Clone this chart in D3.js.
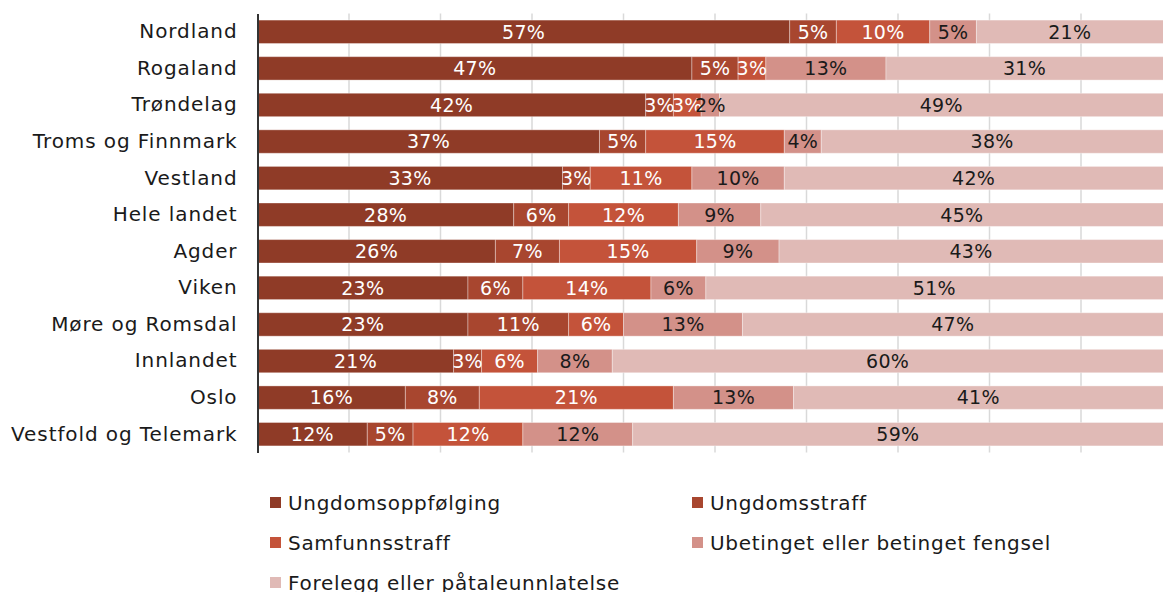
<!DOCTYPE html>
<html>
<head>
<meta charset="utf-8">
<script src="https://cdn.jsdelivr.net/npm/d3@7"></script>
<style>
  body { margin: 0; background: #fff; }
  svg { display: block; font-family: "DejaVu Sans", sans-serif; }
</style>
</head>
<body>
<svg id="chart" width="1163" height="592"></svg>
<script>
// regions, top to bottom
const regions = ["Nordland", "Rogaland", "Trøndelag", "Troms og Finnmark", "Vestland", "Hele landet",
  "Agder", "Viken", "Møre og Romsdal", "Innlandet", "Oslo", "Vestfold og Telemark"];

const seriesNames = ["Ungdomsoppfølging", "Ungdomsstraff", "Samfunnsstraff",
  "Ubetinget eller betinget fengsel", "Forelegg eller påtaleunnlatelse"];

// percentages per series, same order as regions
const ungdomsoppfolging = [57, 47, 42, 37, 33, 28, 26, 23, 23, 21, 16, 12];
const ungdomsstraff     = [5, 5, 3, 5, 3, 6, 7, 6, 11, 3, 8, 5];
const samfunnsstraff    = [10, 3, 3, 15, 11, 12, 15, 14, 6, 6, 21, 12];
const fengsel           = [5, 13, 2, 4, 10, 9, 9, 6, 13, 8, 13, 12];
const forelegg          = [21, 31, 49, 38, 42, 45, 43, 51, 47, 60, 41, 59];

const colors = ["#8f3b27", "#a8462f", "#c4533a", "#d39189", "#e0bab6"];
const labelColors = ["#fff", "#fff", "#fff", "#1a1a1a", "#1a1a1a"];

const rows = regions.map((r, i) => ({
  region: r,
  s0: ungdomsoppfolging[i], s1: ungdomsstraff[i], s2: samfunnsstraff[i],
  s3: fengsel[i], s4: forelegg[i]
}));
const keys = ["s0", "s1", "s2", "s3", "s4"];

const svg = d3.select("#chart");

// 100% stacked; the right end runs a bit past the picture edge
const x = d3.scaleLinear().domain([0, 1]).range([257.5, 1172.5]);
const y = d3.scaleBand().domain(regions).range([13.5, 452.5]).paddingInner(0.36).paddingOuter(0.18);

const stack = d3.stack().keys(keys).offset(d3.stackOffsetExpand);
const layers = stack(rows);

// grid
svg.append("g")
  .selectAll("line")
  .data(d3.range(0.1, 1.0, 0.1))
  .join("line")
  .attr("x1", d => x(d)).attr("x2", d => x(d))
  .attr("y1", 13.5).attr("y2", 452.5)
  .attr("stroke", "#d9d9d9")
  .attr("stroke-width", 1.5);

const layer = svg.append("g")
  .selectAll("g")
  .data(layers)
  .join("g")
  .attr("fill", (d, i) => colors[i]);

layer.selectAll("rect")
  .data(d => d)
  .join("rect")
  .attr("x", d => x(d[0]))
  .attr("y", d => y(d.data.region))
  .attr("width", d => x(d[1]) - x(d[0]))
  .attr("height", y.bandwidth())
  .attr("stroke", "rgba(255,255,255,0.35)")
  .attr("stroke-width", 1);

// value labels
layers.forEach((ly, i) => {
  svg.append("g")
    .attr("fill", labelColors[i])
    .attr("font-size", 19)
    .attr("letter-spacing", 0.3)
    .attr("text-anchor", "middle")
    .selectAll("text")
    .data(ly)
    .join("text")
    .attr("x", d => (x(d[0]) + Math.min(x(d[1]), 1163)) / 2)
    .attr("y", d => y(d.data.region) + y.bandwidth() / 2)
    .attr("dy", "0.36em")
    .text(d => d.data[ly.key] + "%");
});

// y axis
const yAxis = svg.append("g")
  .attr("transform", "translate(257.5,0)")
  .call(d3.axisLeft(y).tickSize(0).tickPadding(20));
yAxis.select(".domain").attr("stroke", "#333").attr("stroke-width", 2);
yAxis.selectAll("text")
  .attr("font-size", 20)
  .attr("letter-spacing", 0.9)
  .attr("font-family", "DejaVu Sans")
  .attr("fill", "#1a1a1a");

// legend
const legendPos = [[270, 503], [692, 503], [270, 543], [692, 543], [270, 583]];
const legend = svg.append("g")
  .selectAll("g")
  .data(seriesNames)
  .join("g")
  .attr("transform", (d, i) => `translate(${legendPos[i][0]},${legendPos[i][1]})`);
legend.append("rect")
  .attr("x", 0).attr("y", -6).attr("width", 11).attr("height", 11)
  .attr("fill", (d, i) => colors[i]);
legend.append("text")
  .attr("x", 18)
  .attr("dy", "0.36em")
  .attr("font-size", 20)
  .attr("letter-spacing", 0.7)
  .attr("fill", "#1a1a1a")
  .text(d => d);
</script>
</body>
</html>
